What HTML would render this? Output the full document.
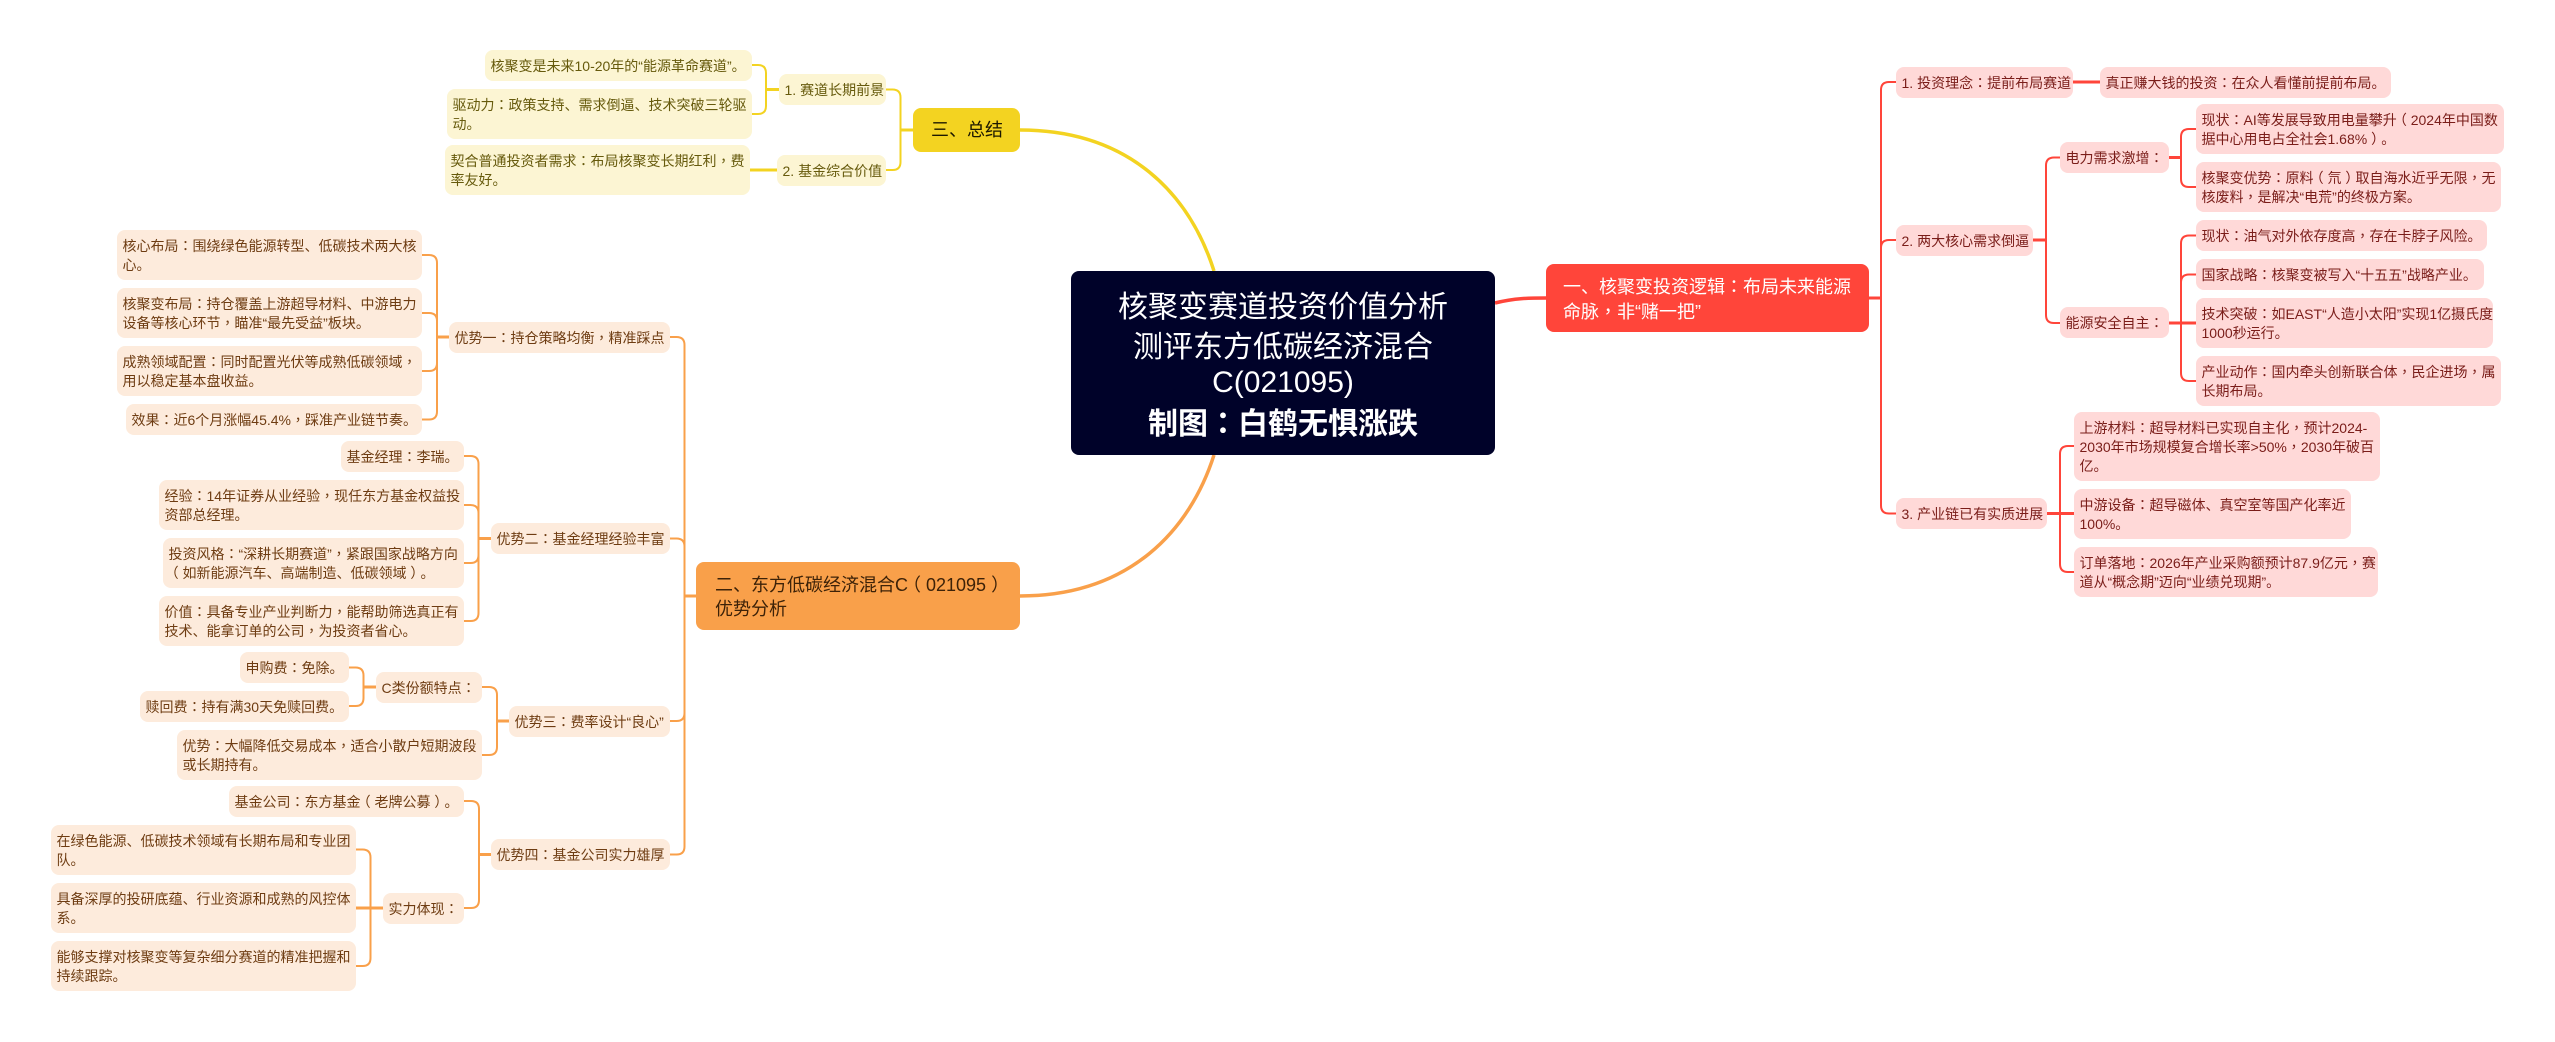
<!DOCTYPE html>
<html>
<head>
<meta charset="utf-8">
<title>核聚变赛道投资价值分析</title>
<style>
html,body{margin:0;padding:0;background:#fff}
#c{position:relative;width:2555px;height:1042px;overflow:hidden;background:#fff;font-family:"Liberation Sans","Noto Sans CJK SC",sans-serif;text-spacing-trim:space-all}
svg{position:absolute;left:0;top:0}
.n{position:absolute;box-sizing:border-box;border-radius:8px;white-space:nowrap;font-size:14px;line-height:19px;padding:7px 5.5px 5px;overflow:hidden}
.r{background:#ffd9d8;color:#7a1d19}
.o{background:#fdebdc;color:#6e3c12}
.y{background:#fcf5d3;color:#665a0c}
.m{font-size:18px;line-height:24px;padding:10px 17px}
.l{position:absolute;left:0;right:0;text-align:center;color:#fff;font-size:30px;line-height:38px;white-space:nowrap}
u{text-decoration:none;font-family:"Noto Sans CJK TC",sans-serif}
u.a{position:relative;left:-.28em}
u.b{position:relative;left:.28em}
</style>
</head>
<body>
<div id="c">
<svg width="2555" height="1042" viewBox="0 0 2555 1042" fill="none" stroke-linecap="butt">
<g stroke="#ff453a">
<path d="M1495,303 C1515,298 1530,298 1546,298" stroke-width="3.5"/>
<path d="M1869,298H1881M2033,240H2046M2169,157.5H2181M2169,323H2196M2047,513.5H2074M2073,82H2100" stroke-width="3"/>
<path stroke-width="2" d="M1881,298V90Q1881,82 1889,82H1896M1881,298V505.5Q1881,513.5 1889,513.5H1896M1881,248Q1881,240 1889,240H1896
M2046,240V165.5Q2046,157.5 2054,157.5H2060M2046,240V315Q2046,323 2054,323H2060
M2181,157.5V137Q2181,129 2189,129H2196M2181,157.5V179Q2181,187 2189,187H2196
M2181,323V243.5Q2181,235.5 2189,235.5H2196M2181,282.5Q2181,274.5 2189,274.5H2196M2181,323V373Q2181,381 2189,381H2196
M2060,513.5V454Q2060,446 2068,446H2074M2060,513.5V564Q2060,572 2068,572H2074"/>
</g>
<g stroke="#f3d321">
<path d="M1020,130C1130,130 1190,195 1214,271" stroke-width="3.5"/>
<path d="M913,130H900.5M779,89.5H766M777,170H750" stroke-width="3"/>
<path stroke-width="2" d="M900.5,130V97.5Q900.5,89.5 892.5,89.5H886M900.5,130V162Q900.5,170 892.5,170H886
M766,89.5V73Q766,65 758,65H752M766,89.5V106Q766,114 758,114H752"/>
</g>
<g stroke="#f9a04a">
<path d="M1020,596C1130,596 1190,530 1214,455" stroke-width="3.5"/>
<path d="M696,596H684.5M449,337H437M491,538.5H478.5M509,721H497M376,687H363.5M491,854.5H479M383,908H356" stroke-width="3"/>
<path stroke-width="2" d="M684.5,596V345Q684.5,337 676.5,337H670M684.5,546.5Q684.5,538.5 676.5,538.5H670M684.5,596V713Q684.5,721 676.5,721H670M684.5,713V846.5Q684.5,854.5 676.5,854.5H670
M437,337V263Q437,255 429,255H422M437,321Q437,313 429,313H422M437,337V363Q437,371 429,371H422M437,363V411.5Q437,419.5 429,419.5H422
M478.5,538.5V464Q478.5,456 470.5,456H464M478.5,513Q478.5,505 470.5,505H464M478.5,538.5V555Q478.5,563 470.5,563H464M478.5,555V613Q478.5,621 470.5,621H464
M497,721V695Q497,687 489,687H482M497,721V747Q497,755 489,755H482
M363.5,687V675.5Q363.5,667.5 355.5,667.5H349M363.5,687V698Q363.5,706 355.5,706H349
M479,854.5V809Q479,801 471,801H464M479,854.5V900Q479,908 471,908H464
M370.5,908V857.5Q370.5,849.5 362.5,849.5H356M370.5,908V958Q370.5,966 362.5,966H356"/>
</g>
</svg>

<!-- root -->
<div style="position:absolute;left:1071px;top:271px;width:424px;height:184px;background:#000229;border-radius:8px">
<div class="l" style="top:18px">核聚变赛道投资价值分析</div>
<div class="l" style="top:58px">测评东方低碳经济混合</div>
<div class="l" style="top:93px">C(021095)</div>
<div class="l" style="top:131px;font-weight:bold">制图<u>：</u>白鹤无惧涨跌</div>
</div>

<!-- main nodes -->
<div class="n m" style="left:1546px;top:264px;width:323px;height:68px;background:#ff453a;color:#fff">一、核聚变投资逻辑<u>：</u>布局未来能源<br>命脉<u>，</u>非“赌一把”</div>
<div class="n m" style="left:696px;top:562px;width:324px;height:68px;background:#f9a04a;color:#3d2208;padding-left:19px">二、东方低碳经济混合C<u class="a">（</u>021095<u class="b">）</u><br>优势分析</div>
<div class="n m" style="left:913px;top:108px;width:107px;height:44px;background:#f3d321;color:#1c1800;padding-left:18px">三、总结</div>

<!-- red -->
<div class="n r" style="left:1896px;top:67px;width:177px;height:31px">1. 投资理念<u>：</u>提前布局赛道</div>
<div class="n r" style="left:2100px;top:67px;width:291px;height:31px">真正赚大钱的投资<u>：</u>在众人看懂前提前布局。</div>
<div class="n r" style="left:1896px;top:225px;width:137px;height:31px">2. 两大核心需求倒逼</div>
<div class="n r" style="left:2060px;top:142px;width:109px;height:31px">电力需求激增<u>：</u></div>
<div class="n r" style="left:2196px;top:104px;width:308px;height:50px">现状<u>：</u>AI等发展导致用电量攀升<u class="a">（</u>2024年中国数<br>据中心用电占全社会1.68%<u class="b">）</u>。</div>
<div class="n r" style="left:2196px;top:162px;width:305px;height:50px">核聚变优势<u>：</u>原料<u class="a">（</u>氘<u class="b">）</u>取自海水近乎无限<u>，</u>无<br>核废料<u>，</u>是解决“电荒”的终极方案。</div>
<div class="n r" style="left:2060px;top:307px;width:109px;height:31px">能源安全自主<u>：</u></div>
<div class="n r" style="left:2196px;top:220px;width:291px;height:31px">现状<u>：</u>油气对外依存度高<u>，</u>存在卡脖子风险。</div>
<div class="n r" style="left:2196px;top:259px;width:288px;height:31px">国家战略<u>：</u>核聚变被写入“十五五”战略产业。</div>
<div class="n r" style="left:2196px;top:298px;width:297px;height:50px">技术突破<u>：</u>如EAST“人造小太阳”实现1亿摄氏度<br>1000秒运行。</div>
<div class="n r" style="left:2196px;top:356px;width:305px;height:50px">产业动作<u>：</u>国内牵头创新联合体<u>，</u>民企进场<u>，</u>属<br>长期布局。</div>
<div class="n r" style="left:1896px;top:498px;width:151px;height:31px">3. 产业链已有实质进展</div>
<div class="n r" style="left:2074px;top:412px;width:306px;height:69px">上游材料<u>：</u>超导材料已实现自主化<u>，</u>预计2024-<br>2030年市场规模复合增长率&gt;50%<u>，</u>2030年破百<br>亿。</div>
<div class="n r" style="left:2074px;top:489px;width:277px;height:50px">中游设备<u>：</u>超导磁体、真空室等国产化率近<br>100%。</div>
<div class="n r" style="left:2074px;top:547px;width:304px;height:50px">订单落地<u>：</u>2026年产业采购额预计87.9亿元<u>，</u>赛<br>道从“概念期”迈向“业绩兑现期”。</div>

<!-- yellow -->
<div class="n y" style="left:779px;top:74px;width:107px;height:31px">1. 赛道长期前景</div>
<div class="n y" style="left:777px;top:155px;width:109px;height:31px">2. 基金综合价值</div>
<div class="n y" style="left:485px;top:50px;width:267px;height:31px">核聚变是未来10-20年的“能源革命赛道”。</div>
<div class="n y" style="left:447px;top:89px;width:305px;height:50px">驱动力<u>：</u>政策支持、需求倒逼、技术突破三轮驱<br>动。</div>
<div class="n y" style="left:445px;top:145px;width:305px;height:50px">契合普通投资者需求<u>：</u>布局核聚变长期红利<u>，</u>费<br>率友好。</div>

<!-- orange -->
<div class="n o" style="left:449px;top:322px;width:221px;height:31px">优势一<u>：</u>持仓策略均衡<u>，</u>精准踩点</div>
<div class="n o" style="left:117px;top:230px;width:305px;height:50px">核心布局<u>：</u>围绕绿色能源转型、低碳技术两大核<br>心。</div>
<div class="n o" style="left:117px;top:288px;width:305px;height:50px">核聚变布局<u>：</u>持仓覆盖上游超导材料、中游电力<br>设备等核心环节<u>，</u>瞄准“最先受益”板块。</div>
<div class="n o" style="left:117px;top:346px;width:305px;height:50px">成熟领域配置<u>：</u>同时配置光伏等成熟低碳领域<u>，</u><br>用以稳定基本盘收益。</div>
<div class="n o" style="left:126px;top:404px;width:296px;height:31px">效果<u>：</u>近6个月涨幅45.4%<u>，</u>踩准产业链节奏。</div>

<div class="n o" style="left:491px;top:523px;width:179px;height:31px">优势二<u>：</u>基金经理经验丰富</div>
<div class="n o" style="left:341px;top:441px;width:123px;height:31px">基金经理<u>：</u>李瑞。</div>
<div class="n o" style="left:159px;top:480px;width:305px;height:50px">经验<u>：</u>14年证券从业经验<u>，</u>现任东方基金权益投<br>资部总经理。</div>
<div class="n o" style="left:163px;top:538px;width:301px;height:50px">投资风格<u>：</u>“深耕长期赛道”<u>，</u>紧跟国家战略方向<br><u class="a">（</u>如新能源汽车、高端制造、低碳领域<u class="b">）</u>。</div>
<div class="n o" style="left:159px;top:596px;width:305px;height:50px">价值<u>：</u>具备专业产业判断力<u>，</u>能帮助筛选真正有<br>技术、能拿订单的公司<u>，</u>为投资者省心。</div>

<div class="n o" style="left:509px;top:706px;width:161px;height:31px">优势三<u>：</u>费率设计“良心”</div>
<div class="n o" style="left:376px;top:672px;width:106px;height:31px">C类份额特点<u>：</u></div>
<div class="n o" style="left:240px;top:652px;width:109px;height:31px">申购费<u>：</u>免除。</div>
<div class="n o" style="left:140px;top:691px;width:209px;height:31px">赎回费<u>：</u>持有满30天免赎回费。</div>
<div class="n o" style="left:177px;top:730px;width:305px;height:50px">优势<u>：</u>大幅降低交易成本<u>，</u>适合小散户短期波段<br>或长期持有。</div>

<div class="n o" style="left:491px;top:839px;width:179px;height:31px">优势四<u>：</u>基金公司实力雄厚</div>
<div class="n o" style="left:229px;top:786px;width:235px;height:31px">基金公司<u>：</u>东方基金<u class="a">（</u>老牌公募<u class="b">）</u>。</div>
<div class="n o" style="left:383px;top:893px;width:81px;height:31px">实力体现<u>：</u></div>
<div class="n o" style="left:51px;top:825px;width:305px;height:50px">在绿色能源、低碳技术领域有长期布局和专业团<br>队。</div>
<div class="n o" style="left:51px;top:883px;width:305px;height:50px">具备深厚的投研底蕴、行业资源和成熟的风控体<br>系。</div>
<div class="n o" style="left:51px;top:941px;width:305px;height:50px">能够支撑对核聚变等复杂细分赛道的精准把握和<br>持续跟踪。</div>
</div>
</body>
</html>
